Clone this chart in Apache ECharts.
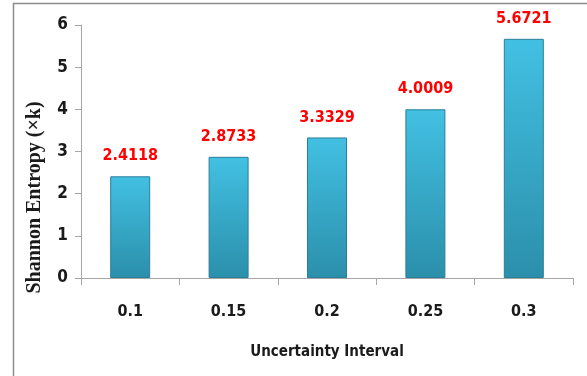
<!DOCTYPE html>
<html>
<head>
<meta charset="utf-8">
<script src="https://cdn.jsdelivr.net/npm/echarts@6/dist/echarts.min.js"></script>
<style>
  html, body { margin: 0; padding: 0; background: #fff; }
  #chart { width: 587px; height: 376px; }
</style>
</head>
<body>
<div id="chart"></div>
<script>
// Uncertainty interval categories and the resulting Shannon entropy values
const intervals = ['0.1', '0.15', '0.2', '0.25', '0.3'];
const entropy = [2.4118, 2.8733, 3.3329, 4.0009, 5.6721];
const yTicks = [0, 1, 2, 3, 4, 5, 6];

const narrow = '"Liberation Sans Narrow", "DejaVu Sans Condensed", "Roboto Condensed", Roboto, sans-serif';
const serif = '"Liberation Serif", "DejaVu Serif", serif';

const chart = echarts.init(document.getElementById('chart'), null, { renderer: 'canvas' });

chart.setOption({
  animation: false,
  backgroundColor: '#ffffff',
  graphic: [{
    type: 'rect',
    shape: { x: 13.5, y: 3.5, width: 700, height: 500 },
    style: { fill: 'none', stroke: '#8c8c8c', lineWidth: 1.5 },
    silent: true,
    z: -1
  }],
  grid: { left: 81, right: 14, top: 25, bottom: 98, containLabel: false },
  xAxis: {
    type: 'category',
    data: intervals,
    name: 'Uncertainty Interval',
    nameLocation: 'middle',
    nameGap: 67,
    nameTextStyle: { fontFamily: narrow, fontWeight: 'bold', fontSize: 15, color: '#1a1a1a' },
    axisLine: { lineStyle: { color: '#a6a6a6', width: 1 } },
    axisTick: { show: true, length: 7, alignWithLabel: false, lineStyle: { color: '#a6a6a6' } },
    axisLabel: { margin: 26, fontFamily: narrow, fontWeight: 'bold', fontSize: 16, color: '#1a1a1a' },
    splitLine: { show: false }
  },
  yAxis: {
    type: 'value',
    min: yTicks[0],
    max: yTicks[yTicks.length - 1],
    interval: 1,
    name: 'Shannon Entropy (×k)',
    nameLocation: 'middle',
    nameRotate: 90,
    nameGap: 36,
    nameTextStyle: { fontFamily: serif, fontWeight: 'bold', fontSize: 20, color: '#1a1a1a', padding: [0, 92, 0, 0] },
    axisLine: { show: true, lineStyle: { color: '#a6a6a6', width: 1 } },
    axisTick: { show: true, length: 6, lineStyle: { color: '#a6a6a6' } },
    axisLabel: { margin: 13, fontFamily: narrow, fontWeight: 'bold', fontSize: 17, color: '#1a1a1a' },
    splitLine: { show: false }
  },
  series: [{
    type: 'bar',
    data: entropy,
    barWidth: 40,
    itemStyle: {
      color: new echarts.graphic.LinearGradient(0, 0, 0, 1, [
        { offset: 0, color: '#42c0e2' },
        { offset: 1, color: '#2b8fab' }
      ]),
      borderColor: '#2a7f98',
      borderWidth: 1
    },
    label: {
      show: true,
      position: 'top',
      distance: 12,
      formatter: p => p.value.toFixed(4),
      fontFamily: narrow,
      fontWeight: 'bold',
      fontSize: 16,
      color: '#ff0000'
    }
  }]
});
</script>
</body>
</html>
